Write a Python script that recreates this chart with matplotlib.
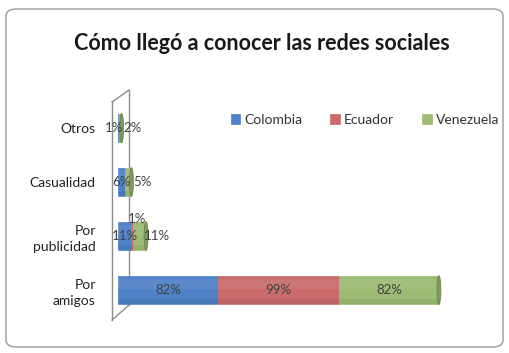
import matplotlib
matplotlib.use("Agg")
import matplotlib.pyplot as plt
from matplotlib.patches import FancyBboxPatch, Ellipse
from matplotlib.lines import Line2D
import numpy as np

title = "Cómo llegó a conocer las redes sociales"
categories = ["Otros", "Casualidad", "Por\npublicidad", "Por\namigos"]
series_names = ["Colombia", "Ecuador", "Venezuela"]
colombia = [1, 6, 11, 82]
ecuador = [0, 0, 1, 99]
venezuela = [2, 5, 11, 82]
colors = ["#4F81C6", "#C96B6B", "#9DBB74"]

FONT = "Lato"
W, H = 509, 353
fig = plt.figure(figsize=(W / 100, H / 100), dpi=100)
fig.patch.set_facecolor("white")

# outer rounded border
fig.patches.append(FancyBboxPatch((6 / W, 6 / H), 497 / W, 338 / H,
                                  boxstyle="round,pad=0,rounding_size=0.02",
                                  transform=fig.transFigure, fill=False,
                                  edgecolor="#9a9a9a", lw=1.0))

fig.text(262 / W, 1 - 44 / H, title, ha="center", va="center",
         fontsize=15.5, fontweight="bold", family=FONT, color="#1a1a1a")

ax = fig.add_axes([118 / W, 1 - 317 / H, 327 / W, 216 / H])
ax.set_facecolor("none")
y = np.arange(len(categories))
left = np.zeros(len(categories))
series = [colombia, ecuador, venezuela]
bh = 0.53
for name, vals, c in zip(series_names, series, colors):
    vals = np.array(vals, dtype=float)
    ax.barh(y, vals, left=left, height=bh, color=c, label=name,
            edgecolor=c, linewidth=0.5)
    # subtle cylinder shading
    ax.barh(y - bh * 0.2, vals, left=left, height=bh * 0.35, color="white",
            alpha=0.07, linewidth=0)
    ax.barh(y + bh * 0.4, vals, left=left, height=bh * 0.2, color="black",
            alpha=0.06, linewidth=0)
    left = left + vals

# end caps to suggest cylinders
for yi, tot in zip(y, left):
    ax.add_patch(Ellipse((tot, yi), 3.2, bh, facecolor="#7f9a5c",
                         edgecolor="#6b8450", lw=0.6, zorder=3))

# data labels
left = np.zeros(len(categories))
for si, vals in enumerate(series):
    for i, v in enumerate(vals):
        if v > 0:
            cx = left[i] + v / 2
            cy = y[i]
            if v < 20:
                if si == 0 and v < 3:
                    cx = left[i] - 3
                elif si == 1:
                    cx = left[i] + v / 2 + 4
                    cy = y[i] - 0.32
                elif si == 2:
                    cx = left[i] + v + 9
            ax.text(cx, cy, f"{v}%", ha="center", va="center", fontsize=9.5,
                    family=FONT, color="#404040", zorder=4)
        left[i] += v

ax.set_xlim(0, 268)
ax.set_ylim(3.5, -0.5)
ax.set_yticks(y)
ax.set_yticklabels(categories, fontsize=10, family=FONT, color="#222222",
                   linespacing=1.4)
ax.tick_params(axis="y", length=0, pad=16)
ax.set_xticks([])
for s in ax.spines.values():
    s.set_visible(False)

# 3D wall outline
def P(x, yy):
    return (x / W, 1 - yy / H)
wall = [((112, 102), (112, 320)), ((129, 90), (129, 305)),
        ((112, 102), (129, 90)), ((112, 320), (129, 305))]
for a, b in wall:
    pa, pb = P(*a), P(*b)
    fig.add_artist(Line2D([pa[0], pb[0]], [pa[1], pb[1]], transform=fig.transFigure,
                          color="#8c8c8c", lw=1.0, zorder=0))

handles, labels = ax.get_legend_handles_labels()
leg = fig.legend(handles[:3], labels[:3], loc="center",
                 bbox_to_anchor=(365 / W, 1 - 120 / H), ncol=3,
                 frameon=False, handlelength=0.7, handleheight=0.7,
                 handletextpad=0.3, columnspacing=2.0,
                 prop={"family": FONT, "size": 10})
for t in leg.get_texts():
    t.set_color("#333333")

fig.savefig("out.png", dpi=100, facecolor="white")
